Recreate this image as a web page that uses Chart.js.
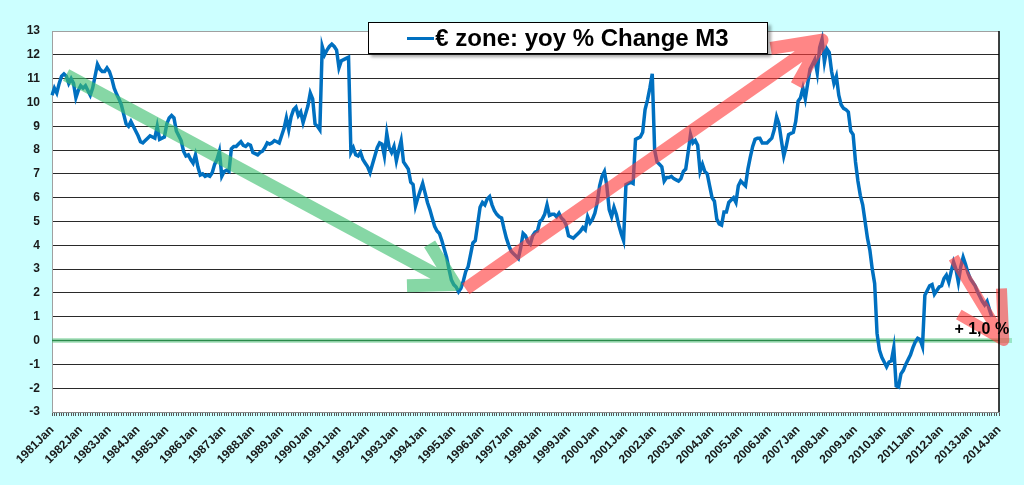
<!DOCTYPE html>
<html>
<head>
<meta charset="utf-8">
<script src="https://cdn.jsdelivr.net/npm/chart.js@4.4.1/dist/chart.umd.min.js"></script>
<style>
  body { margin: 0; background: #ccffff; }
  #wrap { position: relative; width: 1024px; height: 485px; background: #ccffff; }
  #legend {
    position: absolute; left: 368px; top: 22px; width: 400px; height: 32px;
    background: #fff; border: 1px solid #000; box-shadow: 3px 3px 3px rgba(0,0,0,0.35);
    font: bold 24px "Liberation Sans", Arial, sans-serif; color: #000;
    display: flex; align-items: center; justify-content: center; box-sizing: border-box;
  }
  #legend .swatch { display: inline-block; width: 27px; height: 3px; background: #0070c0; margin-right: 1px; }
</style>
</head>
<body>
<div id="wrap">
  <canvas id="m3-chart"></canvas>
  <div id="legend"><span class="swatch"></span>€ zone: yoy % Change M3</div>
</div>
<script>
// --M3 chart data-- //

const startYear = 1981;
const endYear = 2014;
const monthNames = ['Jan', 'Feb', 'Mar', 'Apr', 'May', 'Jun', 'Jul', 'Aug', 'Sep', 'Oct', 'Nov', 'Dec'];

// one label per month, 1981 Jan .. 2014 Jan
let monthLabels = [];
for (let y = startYear; y <= endYear; y++) {
  for (let m = 0; m < 12; m++) {
    if (y === endYear && m > 0) break;
    monthLabels.push(y + monthNames[m]);
  }
}

// yoy % change of M3, monthly
const m3Yoy = [
  10.3, 10.6, 10.4, 10.8, 11.1, 11.2, 11.1, 10.8, 11.0, 10.8, 10.2, 10.5,   // 1981
  10.7, 10.6, 10.7, 10.5, 10.3, 10.6, 11.1, 11.6, 11.4, 11.3, 11.3, 11.45,  // 1982
  11.3, 11.0, 10.6, 10.35, 10.15, 9.9, 9.5, 9.1, 9.0, 9.2, 9.0, 8.8,        // 1983
  8.6, 8.35, 8.3, 8.4, 8.5, 8.6, 8.55, 8.5, 9.0, 8.45, 8.5, 8.55,           // 1984
  9.1, 9.35, 9.45, 9.35, 8.8, 8.6, 8.4, 7.95, 7.75, 7.8, 7.6, 7.45,         // 1985
  7.8, 7.3, 6.95, 7.0, 6.9, 6.95, 6.9, 7.05, 7.4, 7.6, 7.95, 6.9,           // 1986
  7.1, 7.15, 7.1, 8.05, 8.15, 8.15, 8.25, 8.35, 8.2, 8.15, 8.25, 8.2,       // 1987
  7.9, 7.85, 7.8, 7.9, 7.95, 8.1, 8.3, 8.25, 8.3, 8.4, 8.35, 8.3,           // 1988
  8.6, 8.9, 9.35, 8.85, 9.4, 9.7, 9.8, 9.45, 9.6, 9.15, 9.5, 9.85,          // 1989
  10.4, 10.15, 9.1, 9.0, 8.85, 12.35, 12.0, 12.2, 12.35, 12.45, 12.35, 12.2, // 1990
  11.45, 11.75, 11.8, 11.85, 11.9, 7.9, 8.1, 7.8, 7.75, 7.9, 7.6, 7.45,     // 1991
  7.3, 7.05, 7.4, 7.75, 8.1, 8.3, 8.25, 7.75, 8.7, 8.1, 7.9, 8.15,          // 1992
  7.55, 8.0, 8.4, 7.5, 7.35, 7.2, 6.65, 6.55, 5.65, 6.0, 6.3, 6.6,          // 1993
  6.2, 5.8, 5.5, 5.15, 4.8, 4.6, 4.5, 4.2, 3.85, 3.5, 3.0, 2.55,            // 1994
  2.35, 2.25, 2.05, 2.2, 2.5, 2.9, 3.1, 3.6, 4.1, 4.2, 4.9, 5.6,            // 1995
  5.8, 5.7, 5.95, 6.05, 5.7, 5.45, 5.3, 5.2, 5.15, 4.7, 4.3, 4.0,           // 1996
  3.75, 3.65, 3.55, 3.45, 3.9, 4.5, 4.4, 4.15, 4.05, 4.4, 4.55, 4.6,        // 1997
  5.0, 5.1, 5.3, 5.7, 5.25, 5.3, 5.3, 5.2, 5.35, 5.15, 5.05, 4.85,          // 1998
  4.4, 4.35, 4.3, 4.4, 4.5, 4.6, 4.75, 4.65, 5.2, 4.95, 5.1, 5.35,          // 1999
  5.8, 6.5, 6.9, 7.1, 6.5, 5.5, 5.2, 5.6, 5.3, 4.85, 4.5, 4.2,              // 2000
  6.55, 6.6, 6.65, 6.6, 8.45, 8.5, 8.55, 8.75, 9.7, 10.1, 10.6, 11.2,       // 2001
  8.0, 7.5, 7.4, 7.3, 6.7, 6.85, 6.85, 6.9, 6.8, 6.75, 6.7, 6.8,            // 2002
  7.1, 7.2, 7.9, 8.65, 8.3, 8.4, 8.2, 7.1, 7.4, 7.1, 7.0, 6.5,              // 2003
  6.0, 5.85, 5.1, 4.9, 4.85, 5.4, 5.4, 5.8, 5.9, 6.0, 5.8, 6.5,             // 2004
  6.7, 6.6, 6.5, 7.2, 7.7, 8.15, 8.45, 8.5, 8.5, 8.3, 8.3, 8.3,             // 2005
  8.4, 8.5, 8.85, 9.4, 9.1, 8.4, 7.75, 8.15, 8.65, 8.7, 8.75, 9.2,          // 2006
  10.05, 10.2, 10.6, 10.15, 10.8, 11.4, 11.6, 11.8, 11.25, 12.3, 12.65, 11.7, // 2007
  12.25, 12.1, 11.3, 10.8, 11.1, 10.3, 9.9, 9.75, 9.7, 9.6, 8.8, 8.65,      // 2008
  7.5, 6.7, 6.1, 5.7, 5.0, 4.3, 3.8, 3.0, 2.4, 0.3, -0.4, -0.7,             // 2009
  -0.9, -1.1, -0.9, -0.85, -0.3, -1.9, -1.95, -1.4, -1.25, -1.0, -0.8, -0.6, // 2010
  -0.3, -0.05, 0.1, 0.05, -0.25, 1.9, 2.1, 2.3, 2.35, 1.95, 2.1, 2.25,      // 2011
  2.3, 2.6, 2.75, 2.45, 2.9, 3.3, 3.0, 2.45, 3.1, 3.5, 3.2, 2.85,           // 2012
  2.6, 2.45, 2.3, 2.05, 1.85, 1.65, 1.5, 1.65, 1.3, 1.0                     // 2013
];

const yTicks = { min: -3, max: 13, step: 1 };

// trend arrows, [month index, value]
const greenArrow = { from: [5.9, 11.15], to: [168.5, 2.35] };
const redArrow = { from: [173, 2.17], to: [322, 12.62] };
const smallRedArrow = { from: [377, 3.48], to: [398, 0] };
const lastLabel = { at: [388.8, 0.45], text: '+ 1,0 %' };

// --drawing helpers-- //

const drawArrow = (chart, a, color, width, headLen, spread) => {
  const ctx = chart.ctx;
  const xs = chart.scales.x;
  const ys = chart.scales.y;
  const x1 = xs.getPixelForValue(a.from[0]), y1 = ys.getPixelForValue(a.from[1]);
  const x2 = xs.getPixelForValue(a.to[0]), y2 = ys.getPixelForValue(a.to[1]);
  const ang = Math.atan2(y1 - y2, x1 - x2);
  ctx.save();
  ctx.strokeStyle = color;
  ctx.lineWidth = width;
  ctx.lineJoin = 'round';
  ctx.lineCap = 'butt';
  ctx.beginPath();
  ctx.moveTo(x1, y1);
  ctx.lineTo(x2, y2);
  ctx.moveTo(x2 + headLen * Math.cos(ang + spread), y2 + headLen * Math.sin(ang + spread));
  ctx.lineTo(x2, y2);
  ctx.lineTo(x2 + headLen * Math.cos(ang - spread), y2 + headLen * Math.sin(ang - spread));
  ctx.stroke();
  ctx.restore();
};

const decorPlugin = {
  id: 'decor',
  beforeDraw(chart) {
    const { ctx, chartArea: a } = chart;
    ctx.save();
    ctx.fillStyle = '#ffffff';
    ctx.fillRect(a.left, a.top, a.right - a.left, a.bottom - a.top);
    ctx.restore();
  },
  beforeDatasetsDraw(chart) {
    // soft green band under the zero line
    const { ctx, chartArea: a } = chart;
    const y0 = chart.scales.y.getPixelForValue(0);
    ctx.save();
    ctx.strokeStyle = 'rgba(90, 200, 130, 0.45)';
    ctx.lineWidth = 5;
    ctx.beginPath();
    ctx.moveTo(a.left, y0);
    ctx.lineTo(a.right + 13, y0);
    ctx.stroke();
    ctx.strokeStyle = '#2a8a4a';
    ctx.lineWidth = 1.5;
    ctx.beginPath();
    ctx.moveTo(a.left, y0);
    ctx.lineTo(a.right, y0);
    ctx.stroke();
    ctx.restore();
  },
  afterDatasetsDraw(chart) {
    const { ctx, chartArea: a } = chart;
    drawArrow(chart, greenArrow, 'rgba(60, 190, 110, 0.62)', 13, 48, 0.52);
    drawArrow(chart, redArrow, 'rgba(255, 60, 60, 0.62)', 13, 52, 0.45);
    drawArrow(chart, smallRedArrow, 'rgba(255, 60, 60, 0.62)', 11, 52, 0.5);

    ctx.save();
    ctx.strokeStyle = '#000';
    ctx.lineWidth = 1.5;
    ctx.beginPath();
    ctx.moveTo(a.right, a.top);
    ctx.lineTo(a.right, a.bottom);
    ctx.stroke();

    ctx.fillStyle = '#000';
    ctx.font = 'bold 16px "Liberation Sans", Arial, sans-serif';
    ctx.textAlign = 'center';
    ctx.textBaseline = 'middle';
    ctx.fillText(lastLabel.text,
      chart.scales.x.getPixelForValue(lastLabel.at[0]),
      chart.scales.y.getPixelForValue(lastLabel.at[1]));
    ctx.restore();
  }
};

// --M3 chart-- //

const m3Canvas = document.getElementById('m3-chart');

const m3Data = {
  labels: monthLabels,
  datasets: [{
    label: '€ zone: yoy % Change M3',
    data: m3Yoy,
    borderColor: '#0070c0',
    borderWidth: 3.5,
    pointRadius: 0,
    tension: 0,
    fill: false
  }]
};

const m3Options = {
  responsive: true,
  maintainAspectRatio: false,
  animation: false,
  layout: {
    padding: { top: 31, right: 25, left: 0, bottom: 0 }
  },
  scales: {
    x: {
      type: 'category',
      offset: false,
      afterFit: (scale) => { scale.height = 73; },
      grid: {
        drawOnChartArea: false,
        drawTicks: true,
        tickLength: 4,
        color: '#555'
      },
      border: { display: true, color: '#888' },
      ticks: {
        autoSkip: false,
        maxRotation: 45,
        minRotation: 45,
        padding: 7,
        color: '#1a1a1a',
        font: { family: '"Liberation Sans", Arial, sans-serif', size: 12, weight: 'bold' },
        callback: (v, i) => (i % 12 === 0 ? monthLabels[i] : '')
      }
    },
    y: {
      min: yTicks.min,
      max: yTicks.max,
      afterFit: (scale) => { scale.width = 52; },
      grid: {
        drawTicks: false,
        color: (c) => {
          if (!c.tick) return '#2a2a2a';
          if (c.tick.value === 0) return 'rgba(0,0,0,0)';
          if (c.tick.value === yTicks.max) return '#a0a0a0';
          return '#2a2a2a';
        }
      },
      border: { display: true, color: '#a0a0a0' },
      ticks: {
        stepSize: yTicks.step,
        padding: 12,
        color: '#1a1a1a',
        font: { family: '"Liberation Sans", Arial, sans-serif', size: 12, weight: 'bold' }
      }
    }
  },
  plugins: {
    legend: { display: false },
    tooltip: { enabled: false }
  }
};

const m3Chart = new Chart(m3Canvas, {
  type: 'line',
  data: m3Data,
  options: m3Options,
  plugins: [decorPlugin]
});
</script>
</body>
</html>
